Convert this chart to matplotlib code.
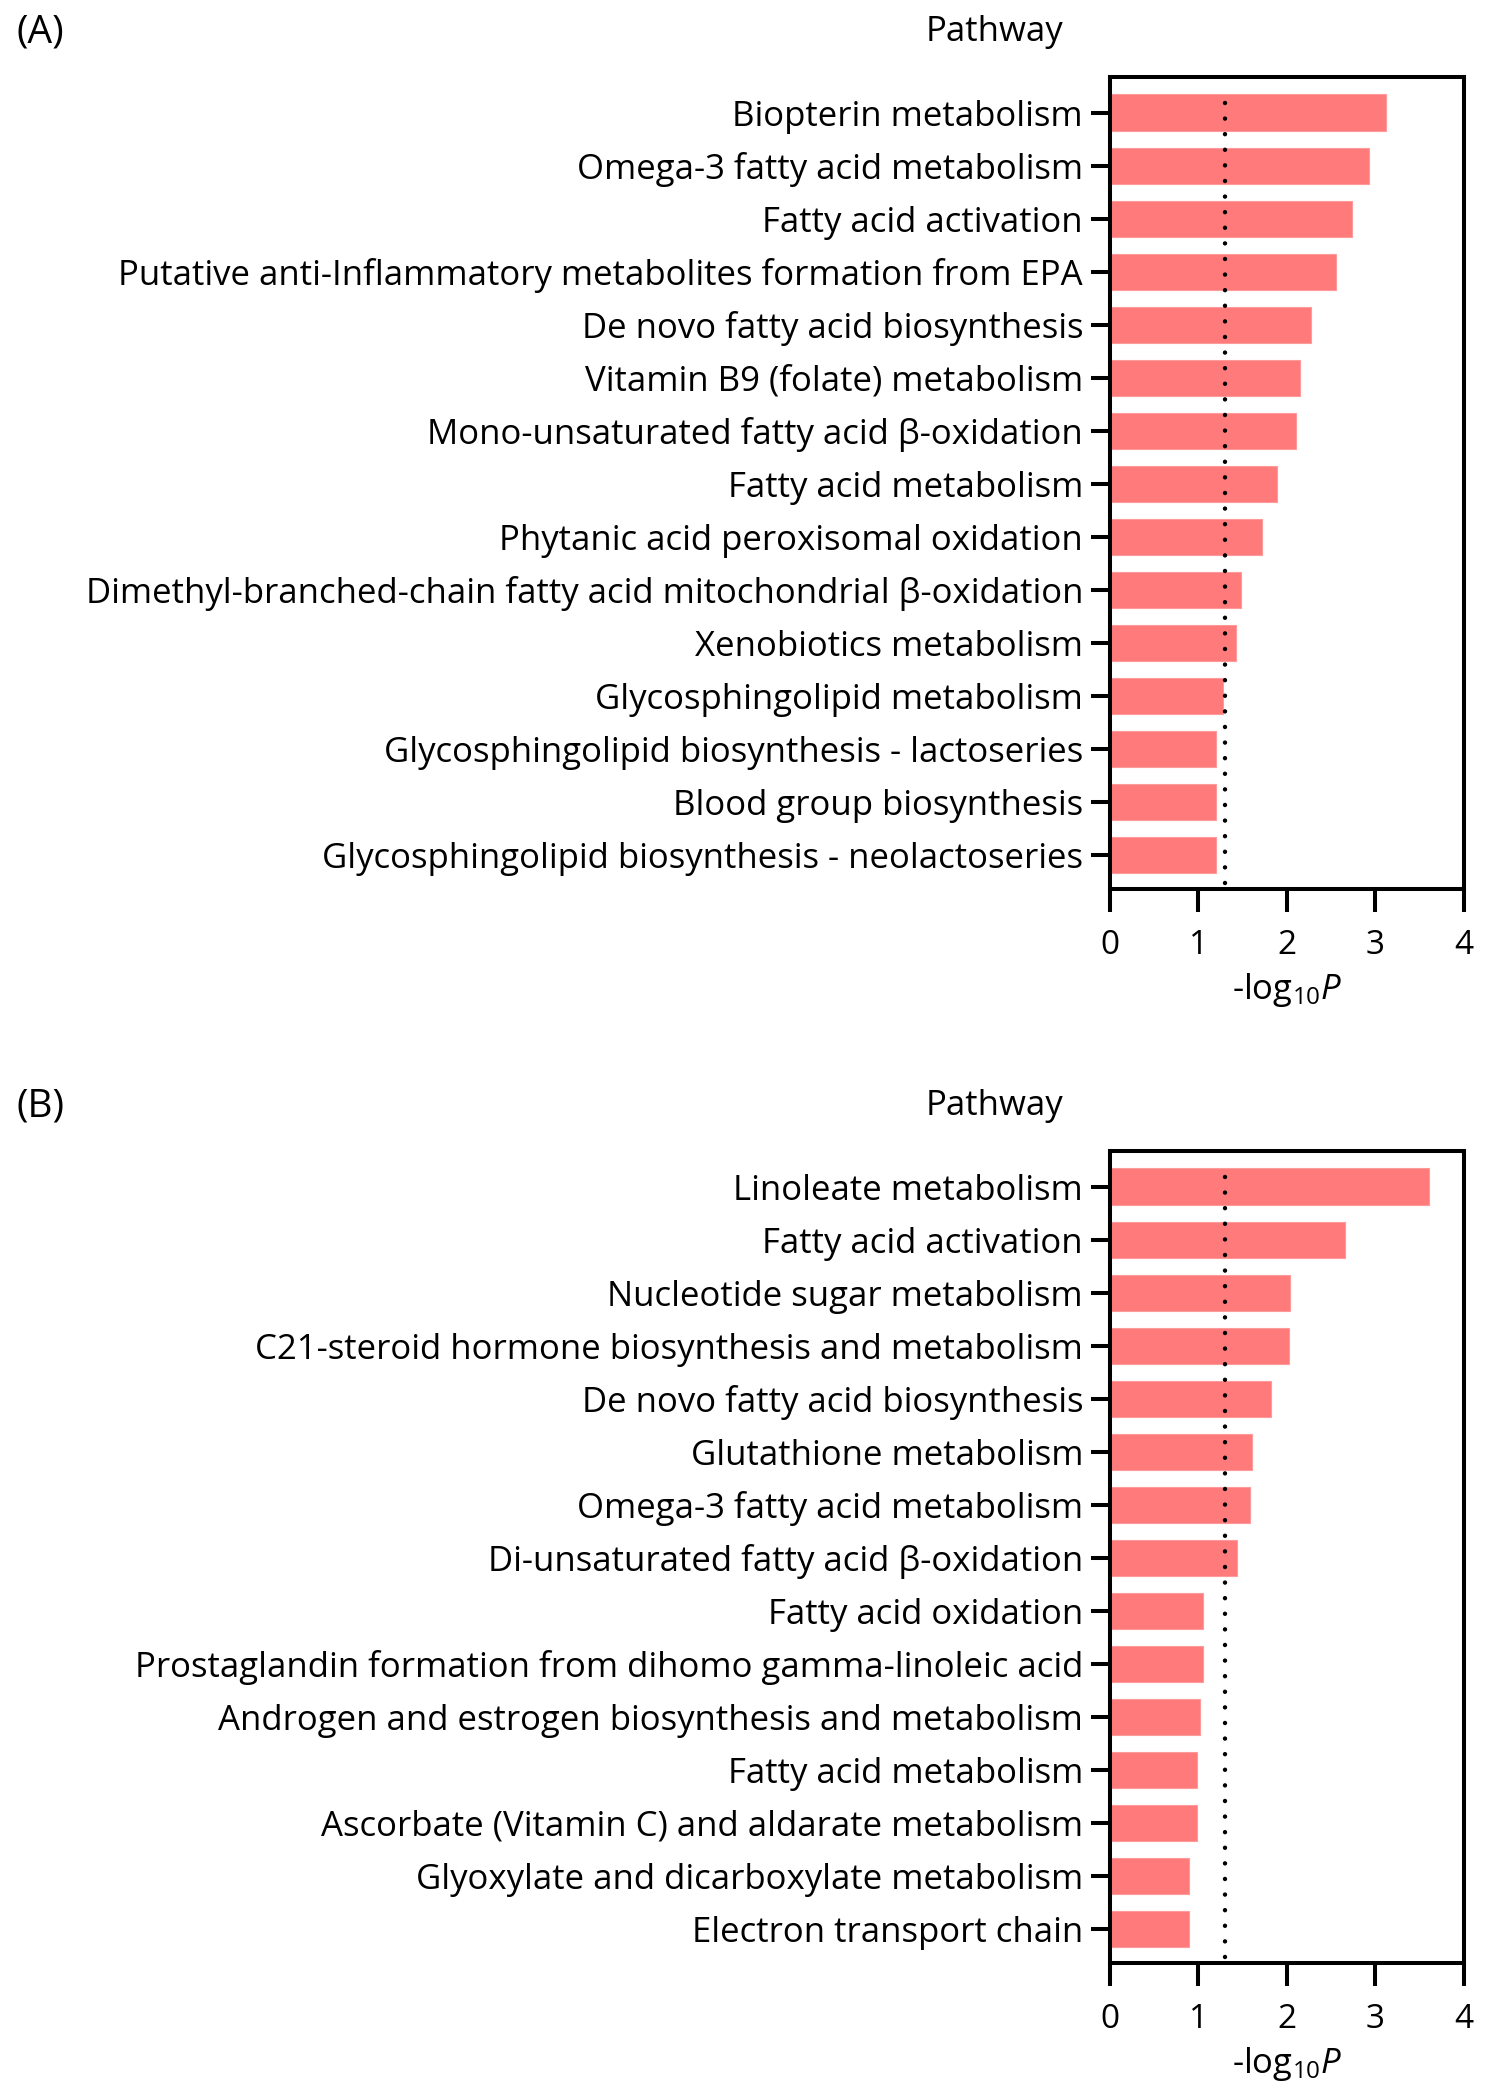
import matplotlib
matplotlib.use('Agg')
import matplotlib.pyplot as plt

plt.rcParams['font.family'] = ['Open Sans', 'DejaVu Sans']
plt.rcParams['mathtext.fontset'] = 'custom'
plt.rcParams['mathtext.rm'] = 'Open Sans'
plt.rcParams['mathtext.it'] = 'Open Sans:italic'

# Panel A
pathways_a = ['Biopterin metabolism',
              'Omega-3 fatty acid metabolism',
              'Fatty acid activation',
              'Putative anti-Inflammatory metabolites formation from EPA',
              'De novo fatty acid biosynthesis',
              'Vitamin B9 (folate) metabolism',
              'Mono-unsaturated fatty acid β-oxidation',
              'Fatty acid metabolism',
              'Phytanic acid peroxisomal oxidation',
              'Dimethyl-branched-chain fatty acid mitochondrial β-oxidation',
              'Xenobiotics metabolism',
              'Glycosphingolipid metabolism',
              'Glycosphingolipid biosynthesis - lactoseries',
              'Blood group biosynthesis',
              'Glycosphingolipid biosynthesis - neolactoseries']
logp_a = [3.12, 2.93, 2.74, 2.56, 2.27, 2.15, 2.10, 1.89, 1.72,
          1.48, 1.43, 1.28, 1.20, 1.20, 1.20]

# Panel B
pathways_b = ['Linoleate metabolism',
              'Fatty acid activation',
              'Nucleotide sugar metabolism',
              'C21-steroid hormone biosynthesis and metabolism',
              'De novo fatty acid biosynthesis',
              'Glutathione metabolism',
              'Omega-3 fatty acid metabolism',
              'Di-unsaturated fatty acid β-oxidation',
              'Fatty acid oxidation',
              'Prostaglandin formation from dihomo gamma-linoleic acid',
              'Androgen and estrogen biosynthesis and metabolism',
              'Fatty acid metabolism',
              'Ascorbate (Vitamin C) and aldarate metabolism',
              'Glyoxylate and dicarboxylate metabolism',
              'Electron transport chain']
logp_b = [3.60, 2.66, 2.04, 2.03, 1.82, 1.61, 1.58, 1.44, 1.06,
          1.05, 1.02, 0.99, 0.99, 0.90, 0.90]

cutoff = 1.301  # -log10(0.05)
xticks = [0, 1, 2, 3, 4]

W, H = 1488, 2097
fig = plt.figure(figsize=(W / 100, H / 100), dpi=100)
fs = 25
fs_x = 24
bar_clr = '#FF7A7A'
lw = 2.9


def panel(top_px, names, vals, tag):
    bottom_px = top_px + 812
    ax = fig.add_axes([1109.5 / W, 1 - bottom_px / H, 354.5 / W, 812 / H])
    y = list(range(len(names)))
    ax.barh(y, vals, height=0.68, color=bar_clr, edgecolor='#FF9A9A',
            linewidth=0.8, zorder=2)
    ax.axvline(cutoff, ymin=0.007, ymax=0.982, color='black', lw=3.2,
               linestyle=(0, (0.01, 3.5)), dash_capstyle='round', zorder=3)
    ax.set_ylim(len(names) - 1 + 0.645, -0.67)
    ax.set_xlim(0, 4)
    ax.set_yticks(y)
    ax.set_yticklabels(names, fontsize=fs)
    ax.set_xticks(xticks)
    ax.set_xticklabels([str(t) for t in xticks], fontsize=fs_x)
    for s in ax.spines.values():
        s.set_linewidth(lw)
    ax.tick_params(axis='y', length=14, width=lw, pad=5)
    ax.tick_params(axis='x', length=16.5, width=lw, pad=12)
    ax.set_xlabel(r'-log$_{10}$$\mathit{P}$', fontsize=fs_x + 1, labelpad=7)
    fig.text(994 / W, 1 - (top_px - 45) / H, 'Pathway', fontsize=fs,
             ha='center', va='center')
    fig.text(16 / W, 1 - (top_px - 45) / H, tag, fontsize=28,
             ha='left', va='center')
    return ax


panel(77, pathways_a, logp_a, '(A)')
panel(1151, pathways_b, logp_b, '(B)')

fig.savefig('out.png', dpi=100)
